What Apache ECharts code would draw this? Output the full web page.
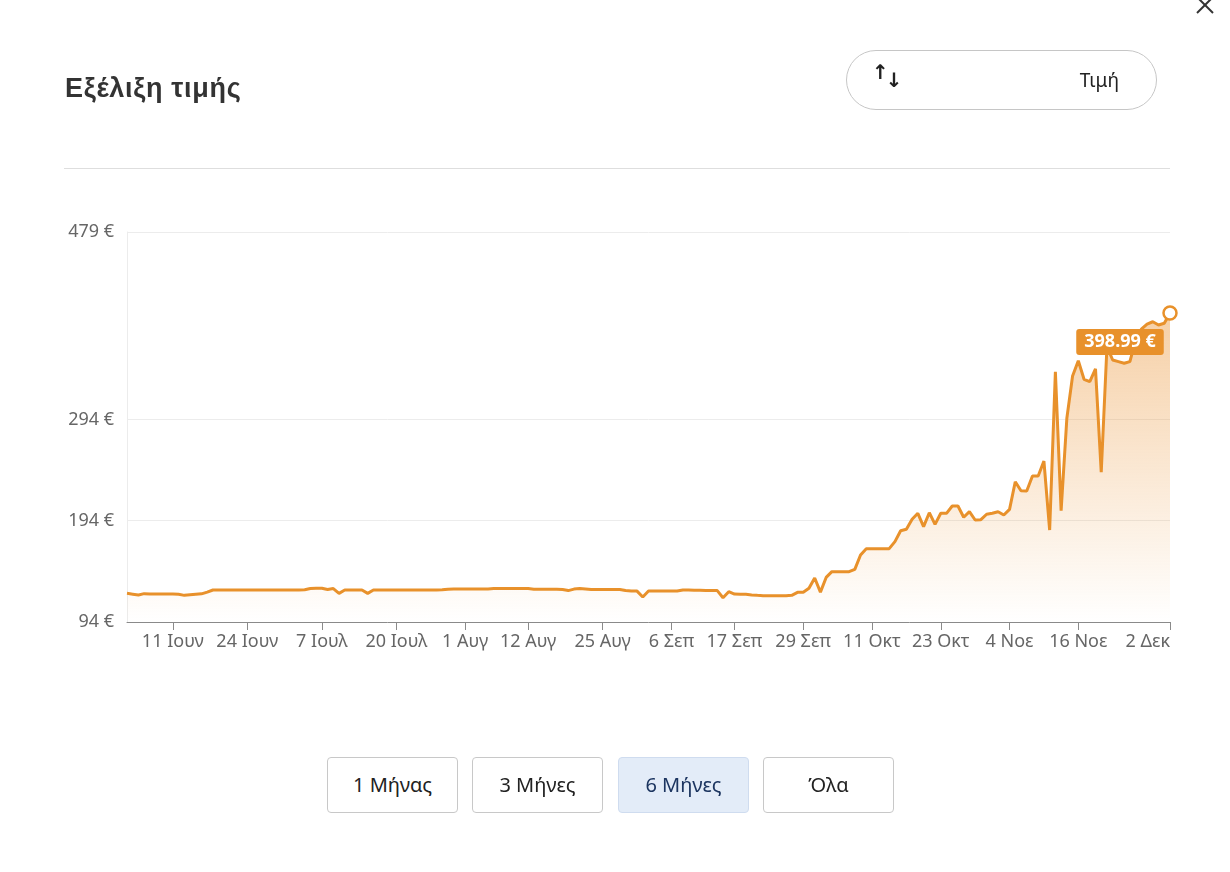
<!DOCTYPE html>
<html>
<head>
<meta charset="utf-8">
<script src="https://cdn.jsdelivr.net/npm/echarts@6/dist/echarts.min.js"></script>
<style>
  html, body { margin:0; padding:0; background:#fff; }
  body { width:1230px; height:872px; position:relative; overflow:hidden; font-family:"Noto Sans", "Open Sans", sans-serif; }
  #chart { position:absolute; left:0; top:0; width:1230px; height:872px; }
  .title { position:absolute; left:65px; top:71px; font-family:"Liberation Sans", Arial, sans-serif; font-weight:bold; font-size:27px; letter-spacing:0.7px; color:#333; line-height:34px; }
  .divider { position:absolute; left:64px; top:168px; width:1106px; height:1px; background:#dedede; }
  .pill { position:absolute; left:846px; top:50px; width:311px; height:60px; border:1px solid #c6c6c6; border-radius:30px; box-sizing:border-box; }
  .pill .arr { position:absolute; left:25px; top:13px; font-size:20px; font-weight:bold; color:#222; font-family:"DejaVu Sans", sans-serif; }
  .pill .arr span { display:inline-block; }
  .pill .lbl { position:absolute; right:37px; top:16px; font-size:19px; color:#222; }
  .close { position:absolute; left:1194px; top:0; }
  .btn { position:absolute; top:757px; width:131px; height:56px; border:1px solid #c8c8c8; border-radius:4px; box-sizing:border-box; text-align:center; line-height:54px; font-size:20px; color:#222; background:#fff; }
  .btn.active { background:#e3ecf8; border-color:#cfdcef; color:#1c3560; }
</style>
</head>
<body>
<div id="chart"></div>
<div class="title">Εξέλιξη τιμής</div>
<div class="divider"></div>
<div class="pill"><div class="arr"><span style="position:relative;top:-4px">↑</span><span style="position:relative;top:4px;margin-left:-3px">↓</span></div><div class="lbl">Τιμή</div></div>
<svg class="close" width="30" height="20"><line x1="3" y1="-3" x2="19" y2="13" stroke="#333" stroke-width="2"/><line x1="19" y1="-3" x2="3" y2="13" stroke="#333" stroke-width="2"/></svg>
<div class="btn" style="left:327px">1 Μήνας</div>
<div class="btn" style="left:472px">3 Μήνες</div>
<div class="btn active" style="left:618px">6 Μήνες</div>
<div class="btn" style="left:763px">Όλα</div>
<script>
// ---- data ----
const startDate = '2024-06-03';   // first daily price point
const prices = [
  122.3, 121.5, 120.7, 122.0, 121.6, 121.6, 121.6, 121.6, 121.6, 121.3,
  120.3, 120.8, 121.3, 121.8, 123.5, 125.6, 125.6, 125.6, 125.6, 125.6,
  125.6, 125.6, 125.6, 125.6, 125.6, 125.6, 125.6, 125.6, 125.6, 125.6,
  125.6, 125.8, 127.0, 127.3, 127.3, 126.0, 127.0, 122.3, 125.6, 125.6,
  125.6, 125.6, 122.3, 125.6, 125.6, 125.6, 125.6, 125.6, 125.6, 125.6,
  125.6, 125.6, 125.6, 125.6, 125.6, 125.8, 126.4, 126.6, 126.6, 126.6,
  126.6, 126.6, 126.6, 126.6, 127.0, 127.0, 127.0, 127.0, 127.0, 127.0,
  127.0, 126.3, 126.3, 126.3, 126.3, 126.3, 126.0, 125.0, 126.5, 127.0,
  126.5, 126.0, 126.0, 126.0, 126.0, 126.0, 126.0, 125.0, 124.6, 124.5,
  118.7, 124.6, 124.6, 124.6, 124.6, 124.6, 124.6, 125.6, 125.6, 125.3,
  125.3, 125.0, 125.0, 125.0, 118.0, 123.9, 121.6, 121.4, 121.3, 120.7,
  120.3, 120.0, 120.0, 120.0, 120.0, 120.0, 120.3, 123.3, 123.3, 127.3,
  137.4, 123.5, 138.0, 143.7, 143.7, 143.7, 143.7, 146.0, 160.1, 166.4,
  166.4, 166.4, 166.4, 166.4, 173.3, 184.1, 185.5, 195.4, 201.3, 188.1,
  201.9, 190.4, 201.3, 201.3, 208.5, 208.5, 197.4, 202.9, 194.7, 195.0,
  200.4, 201.3, 202.9, 199.6, 205.2, 232.5, 223.6, 223.3, 238.1, 238.1,
  252.9, 184.8, 341.1, 203.9, 295.1, 336.8, 351.9, 333.6, 331.2, 343.8,
  241.8, 366.0, 352.6, 351.0, 349.4, 351.0, 372.0, 383.0, 388.0, 390.4,
  387.2, 388.9, 398.99
];
const tickDates = ['2024-06-11','2024-06-24','2024-07-07','2024-07-20','2024-08-01','2024-08-12','2024-08-25','2024-09-06','2024-09-17','2024-09-29','2024-10-11','2024-10-23','2024-11-04','2024-11-16','2024-12-02'];
const monthNames = ['Ιαν','Φεβ','Μαρ','Απρ','Μαϊ','Ιουν','Ιουλ','Αυγ','Σεπ','Οκτ','Νοε','Δεκ'];
const yTicks = [94, 194, 294, 479];
const yMin = 94, yMax = 479;
const currentLabel = '398.99 €';

// ---- build ----
const DAY = 86400000;
const t0 = Date.parse(startDate + 'T00:00:00Z');
const seriesData = prices.map((p, i) => [t0 + i * DAY, p]);
const tickTs = tickDates.map(d => Date.parse(d + 'T00:00:00Z'));
const last = seriesData[seriesData.length - 1];
const ORANGE = '#e8912b';
const chart = echarts.init(document.getElementById('chart'), null, { renderer: 'canvas' });
chart.setOption({
  animation: false,
  grid: { left: 127, right: 60, top: 232, bottom: 250, containLabel: false },
  xAxis: {
    type: 'value',
    min: t0,
    max: tickTs[tickTs.length - 1],
    axisLine: { show: true, lineStyle: { color: '#8a8a8a', width: 1 } },
    axisTick: { show: true, customValues: tickTs, length: 8, lineStyle: { color: '#8a8a8a' } },
    axisLabel: {
      customValues: tickTs,
      color: '#666', fontSize: 18, margin: 11,
      fontFamily: '"Noto Sans", sans-serif',
      hideOverlap: false,
      showMinLabel: true, showMaxLabel: true,
      alignMaxLabel: 'right',
      formatter: v => { const d = new Date(v); return d.getUTCDate() + ' ' + monthNames[d.getUTCMonth()]; }
    },
    splitLine: { show: false }
  },
  yAxis: {
    type: 'value',
    min: yMin, max: yMax,
    axisLine: { show: true, lineStyle: { color: '#ececec' } },
    axisTick: { show: false, customValues: yTicks },
    axisLabel: {
      customValues: yTicks,
      color: '#666', fontSize: 18, margin: 13,
      fontFamily: '"Noto Sans", sans-serif',
      formatter: v => v + ' €'
    },
    splitLine: { show: true, lineStyle: { color: '#ececec', width: 1 } }
  },
  series: [
    {
      type: 'line',
      data: seriesData,
      symbol: 'none',
      lineStyle: { color: ORANGE, width: 3 },
      areaStyle: {
        color: new echarts.graphic.LinearGradient(0, 0, 0, 1, [
          { offset: 0, color: 'rgba(234,146,50,0.62)' },
          { offset: 1, color: 'rgba(234,146,50,0.0)' }
        ])
      },
      z: 2
    },
    {
      type: 'scatter',
      data: [last],
      symbol: 'circle',
      symbolSize: 13,
      itemStyle: { color: '#fff', borderColor: ORANGE, borderWidth: 2.5, opacity: 1 },
      label: {
        show: true,
        position: 'inside',
        offset: [-50, 29],
        formatter: () => currentLabel,
        backgroundColor: ORANGE,
        color: '#fff',
        fontWeight: 'bold',
        fontSize: 18,
        fontFamily: '"Noto Sans", sans-serif',
        padding: [5, 8, 3, 8],
        borderRadius: 3
      },
      z: 5
    }
  ]
});
</script>
</body>
</html>
